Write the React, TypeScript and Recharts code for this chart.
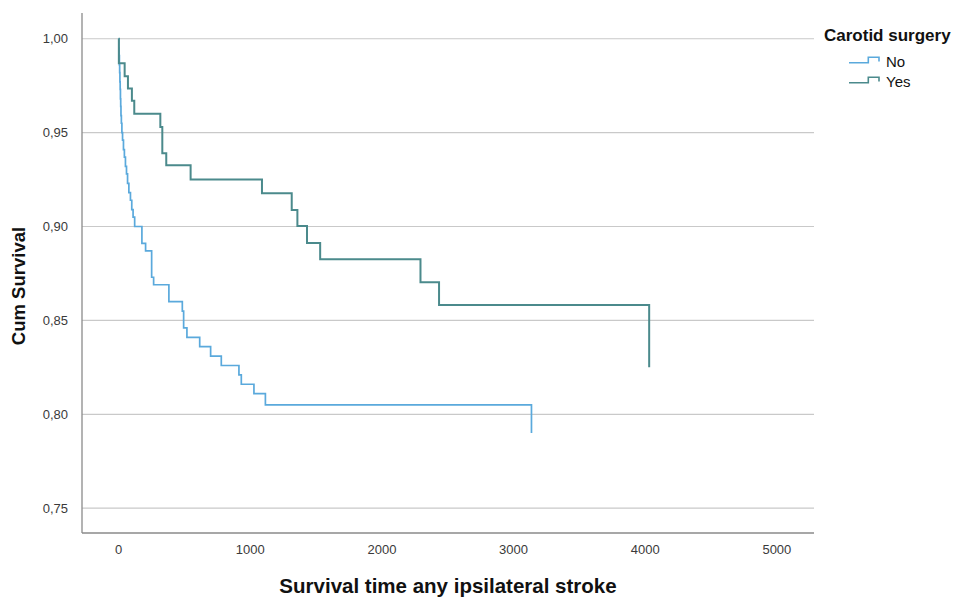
import { LineChart, Line, XAxis, YAxis, CartesianGrid, Legend } from "recharts";

// Kaplan-Meier steps: time of event, survival after it
const noTimes = [
  0, 2, 4, 6, 8, 10, 12, 14, 16, 18, 21, 25, 30, 37, 44, 52, 60, 68, 78, 90, 100, 110, 122,
  177, 205, 251, 266, 382, 484, 494, 519, 616, 699, 780, 914, 932, 1028, 1115, 3136,
];
const noSurvival = [
  1.0, 0.995, 0.991, 0.986, 0.982, 0.977, 0.973, 0.968, 0.964, 0.959, 0.955, 0.95, 0.946, 0.941,
  0.937, 0.932, 0.928, 0.923, 0.918, 0.914, 0.909, 0.905, 0.9, 0.891, 0.887, 0.873, 0.869, 0.86,
  0.855, 0.846, 0.841, 0.836, 0.831, 0.826, 0.821, 0.816, 0.811, 0.805, 0.79,
];

const yesTimes = [
  0, 2, 46, 71, 101, 119, 317, 332, 362, 547, 1089, 1315, 1358, 1431, 1531, 2293, 2434, 4030,
];
const yesSurvival = [
  1.0, 0.987, 0.98, 0.9735, 0.967, 0.96, 0.953, 0.939, 0.9326, 0.925, 0.9177, 0.9088, 0.9003,
  0.8912, 0.8826, 0.8703, 0.8582, 0.8251,
];

const xTicks = [0, 1000, 2000, 3000, 4000, 5000];
const yTicks = [0.75, 0.8, 0.85, 0.9, 0.95, 1.0];
const groups = ["No", "Yes"];
const groupColors = ["#5aa9dc", "#4b8a8c"];

const noData = noTimes.map((t, i) => ({ t, s: noSurvival[i] }));
const yesData = yesTimes.map((t, i) => ({ t, s: yesSurvival[i] }));

const font = "'Liberation Sans', Arial, sans-serif";

function StepIcon({ color }: { color: string }) {
  return (
    <svg width={34} height={12} style={{ position: "absolute", left: 0, top: 0 }}>
      <path d="M1 7.7 H20.3 V2.3 H31 V6.5" fill="none" stroke={color} strokeWidth={1.6} />
    </svg>
  );
}

function KmLegend() {
  return (
    <div style={{ position: "relative", width: 142, height: 80, fontFamily: font, color: "#111" }}>
      <div
        style={{
          position: "absolute",
          left: 4,
          top: 6,
          fontSize: 17,
          lineHeight: "20px",
          fontWeight: "bold",
          whiteSpace: "nowrap",
        }}
      >
        Carotid surgery
      </div>
      {groups.map((g, i) => (
        <div key={g} style={{ position: "absolute", left: 28, top: 32.5 + i * 20, width: 110, height: 18 }}>
          <div style={{ position: "absolute", left: 0, top: 2.5 }}>
            <StepIcon color={groupColors[i]} />
          </div>
          <span style={{ position: "absolute", left: 38, top: 0, fontSize: 15, lineHeight: "18px" }}>{g}</span>
        </div>
      ))}
    </div>
  );
}

export default function App() {
  return (
    <div style={{ position: "absolute", left: 0, top: 0, width: 962, height: 600, background: "#fff", fontFamily: font }}>
      <LineChart width={962} height={600} margin={{ top: 13, right: 148, bottom: 0, left: 0 }}>
        <CartesianGrid vertical={false} horizontalValues={yTicks} stroke="#c9c9c9" strokeWidth={1.2} />
        <XAxis
          type="number"
          dataKey="t"
          domain={[-278, 5282]}
          ticks={xTicks}
          allowDataOverflow
          height={67}
          tickLine={false}
          tickMargin={6}
          axisLine={{ stroke: "#8a8a8a", strokeWidth: 1.3 }}
          tick={{ fontSize: 13, fill: "#3a3a3a", fontFamily: font }}
          label={{
            value: "Survival time any ipsilateral stroke",
            position: "insideBottom",
            offset: 7,
            style: { fontSize: 20.5, fontWeight: "bold", fill: "#111", fontFamily: font },
          }}
        />
        <YAxis
          type="number"
          domain={[0.7368, 1.0137]}
          ticks={yTicks}
          allowDataOverflow
          width={82}
          tickLine={false}
          tickMargin={8}
          axisLine={{ stroke: "#8a8a8a", strokeWidth: 1.3 }}
          tick={{ fontSize: 13, fill: "#3a3a3a", fontFamily: font }}
          tickFormatter={(v: number) => v.toFixed(2).replace(".", ",")}
          label={{
            value: "Cum Survival",
            angle: -90,
            position: "insideLeft",
            offset: 18,
            dy: 13,
            style: { fontSize: 18.5, fontWeight: "bold", fill: "#111", fontFamily: font, textAnchor: "middle" },
          }}
        />
        <Legend
          layout="vertical"
          align="center"
          verticalAlign="middle"
          wrapperStyle={{ left: 820, top: 20, width: 142 }}
          content={() => <KmLegend />}
        />
        <Line
          data={noData}
          dataKey="s"
          name={groups[0]}
          type="stepAfter"
          stroke={groupColors[0]}
          strokeWidth={1.7}
          dot={false}
          activeDot={false}
          isAnimationActive={false}
        />
        <Line
          data={yesData}
          dataKey="s"
          name={groups[1]}
          type="stepAfter"
          stroke={groupColors[1]}
          strokeWidth={2}
          dot={false}
          activeDot={false}
          isAnimationActive={false}
        />
      </LineChart>
    </div>
  );
}
